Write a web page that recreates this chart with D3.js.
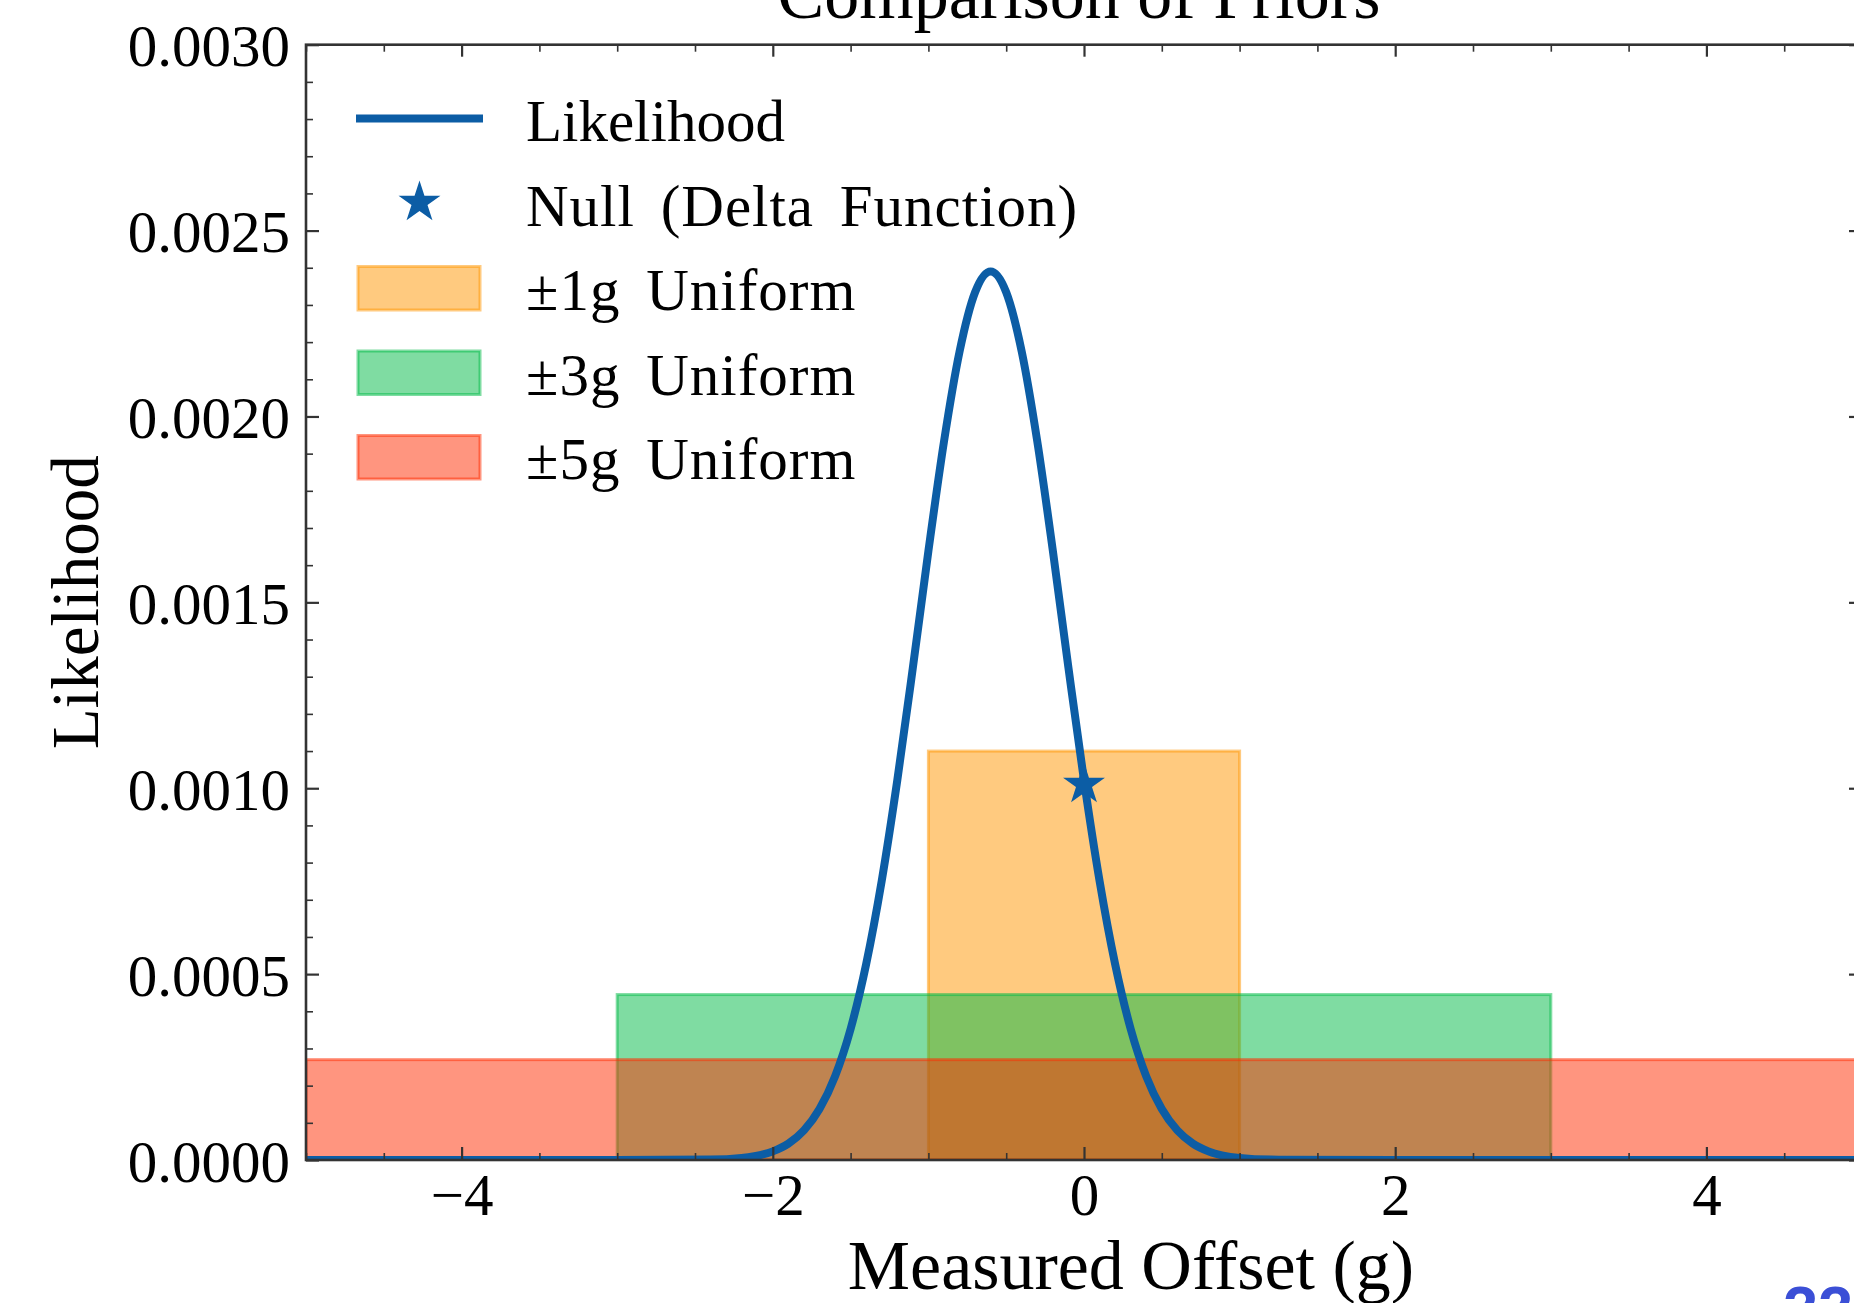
<!DOCTYPE html>
<html>
<head>
<meta charset="utf-8">
<script src="https://cdn.jsdelivr.net/npm/d3@7"></script>
<style>
  body { margin: 0; background: #fff; }
  svg { display: block; }
  text { font-family: "Liberation Serif", "DejaVu Serif", serif; fill: #000; }
</style>
</head>
<body>
<div id="chart"></div>
<script>
// data
var curveX = [-5, -3, -2.4, -2.2, -2.0, -1.9, -1.8, -1.7, -1.6, -1.5, -1.4, -1.3, -1.2, -1.1, -1.0,
              -0.9, -0.8, -0.7, -0.6, -0.5, -0.4, -0.3, -0.2, -0.1, 0.0, 0.1, 0.2, 0.3, 0.4,
              0.5, 0.6, 0.7, 0.8, 1.0, 1.2, 2, 5];
var curveY = [0, 0, 0.0000011, 0.0000056, 0.0000233, 0.0000441, 0.0000795, 0.000137, 0.000225, 0.0003525,
              0.000527, 0.000751, 0.001021, 0.001324, 0.001638, 0.001932, 0.002174, 0.002334, 0.00239,
              0.002334, 0.002174, 0.001932, 0.001638, 0.001324, 0.001021, 0.000751, 0.000527, 0.0003525,
              0.000225, 0.000137, 0.0000795, 0.0000441, 0.0000233, 0.0000056, 0.0000011, 0, 0];

var nullX = [0];
var nullY = [0.00101];

var priorLabels = ["\u00b11g Uniform", "\u00b13g Uniform", "\u00b15g Uniform"];
var priorHalfWidth = [1, 3, 5];
var priorHeight = [0.0011, 0.000445, 0.00027];

var xMajor = [-4, -2, 0, 2, 4];
var yMajor = [0, 0.0005, 0.001, 0.0015, 0.002, 0.0025, 0.003];

var legendLabels = ["Likelihood", "Null (Delta Function)"].concat(priorLabels);

// styles
var blue = "#0C5DA5";
var priorColors = ["#FF9500", "#00B945", "#FF2C00"];

var width = 1854, height = 1303;
var plotLeft = 306, plotRight = 1862, plotTop = 44.7, plotBottom = 1160;

var svg = d3.select("#chart").append("svg")
    .attr("width", width)
    .attr("height", height);

var x = d3.scaleLinear().domain([-5, 5]).range([plotLeft, plotRight]);
var y = d3.scaleLinear().domain([0, 0.003]).range([plotBottom, plotTop]);

svg.append("clipPath").attr("id", "plotclip")
  .append("rect")
    .attr("x", plotLeft).attr("y", plotTop)
    .attr("width", plotRight - plotLeft).attr("height", plotBottom - plotTop);

var plot = svg.append("g").attr("clip-path", "url(#plotclip)");

// uniform priors
plot.selectAll("rect.prior")
  .data(priorHalfWidth)
  .enter().append("rect")
    .attr("class", "prior")
    .attr("x", function(d) { return x(-d); })
    .attr("width", function(d) { return x(d) - x(-d); })
    .attr("y", function(d, i) { return y(priorHeight[i]); })
    .attr("height", function(d, i) { return y(0) - y(priorHeight[i]); })
    .attr("fill", function(d, i) { return priorColors[i]; })
    .attr("fill-opacity", 0.5)
    .attr("stroke", function(d, i) { return priorColors[i]; })
    .attr("stroke-opacity", 0.5)
    .attr("stroke-width", 3);

// likelihood curve
var line = d3.line()
    .x(function(d, i) { return x(curveX[i]); })
    .y(function(d) { return y(d); })
    .curve(d3.curveMonotoneX);

plot.append("path")
    .datum(curveY)
    .attr("d", line)
    .attr("fill", "none")
    .attr("stroke", blue)
    .attr("stroke-width", 8)
    .attr("stroke-linejoin", "round");

// null point
var star = d3.symbol().type(d3.symbolStar).size(545);
plot.selectAll("path.null")
  .data(nullX)
  .enter().append("path")
    .attr("class", "null")
    .attr("d", star)
    .attr("transform", function(d, i) { return "translate(" + x(d) + "," + y(nullY[i]) + ")"; })
    .attr("fill", blue);

// axes: ticks inward on all four sides
var tickColor = "#333";
function styleAxis(g, w) {
  g.select(".domain").remove();
  g.selectAll(".tick line").attr("stroke", tickColor).attr("stroke-width", w);
}

var xMinor = d3.range(-5, 5.001, 0.5).filter(function(v) { return xMajor.indexOf(v) < 0; });
var yMinor = d3.range(0, 31).map(function(i) { return i / 10000; })
    .filter(function(v, i) { return i % 5 !== 0; });

var gx = svg.append("g").attr("transform", "translate(0," + plotBottom + ")")
    .call(d3.axisBottom(x).tickValues(xMajor).tickSize(-13).tickSizeOuter(0).tickFormat(d3.format("d")));
styleAxis(gx, 2.2);
gx.selectAll(".tick text")
    .attr("y", 55).attr("dy", 0)
    .style("font-size", "59px")
    .style("font-family", "Liberation Serif");

svg.append("g").attr("transform", "translate(0," + plotBottom + ")")
    .call(d3.axisBottom(x).tickValues(xMinor).tickSize(-7).tickFormat(""))
    .call(styleAxis, 1.6);

svg.append("g").attr("transform", "translate(0," + plotTop + ")")
    .call(d3.axisTop(x).tickValues(xMajor).tickSize(-12).tickFormat(""))
    .call(styleAxis, 2.2);
svg.append("g").attr("transform", "translate(0," + plotTop + ")")
    .call(d3.axisTop(x).tickValues(xMinor).tickSize(-7).tickFormat(""))
    .call(styleAxis, 1.6);

var gy = svg.append("g").attr("transform", "translate(" + plotLeft + ",0)")
    .call(d3.axisLeft(y).tickValues(yMajor).tickSize(-13).tickSizeOuter(0).tickFormat(d3.format(".4f")));
styleAxis(gy, 2.2);
gy.selectAll(".tick text")
    .attr("x", -16).attr("dy", 21)
    .style("font-size", "59px")
    .style("font-family", "Liberation Serif");

svg.append("g").attr("transform", "translate(" + plotLeft + ",0)")
    .call(d3.axisLeft(y).tickValues(yMinor).tickSize(-7).tickFormat(""))
    .call(styleAxis, 1.6);

svg.append("g").attr("transform", "translate(" + plotRight + ",0)")
    .call(d3.axisRight(y).tickValues(yMajor).tickSize(-13).tickFormat(""))
    .call(styleAxis, 2.2);

// spines
svg.append("rect")
    .attr("x", plotLeft).attr("y", plotTop)
    .attr("width", plotRight - plotLeft).attr("height", plotBottom - plotTop)
    .attr("fill", "none")
    .attr("stroke", tickColor)
    .attr("stroke-width", 2.6);

// title and axis labels
svg.append("text")
    .attr("x", x(0) - 5).attr("y", 18)
    .attr("text-anchor", "middle")
    .style("font-size", "70px")
    .text("Comparison of Priors");

svg.append("text")
    .attr("x", x(0) + 47).attr("y", 1289)
    .attr("text-anchor", "middle")
    .style("font-size", "70px")
    .text("Measured Offset (g)");

svg.append("text")
    .attr("transform", "translate(98," + (plotTop + plotBottom) / 2 + ") rotate(-90)")
    .attr("text-anchor", "middle")
    .style("font-size", "67px")
    .text("Likelihood");

// legend
var legend = svg.append("g");
var rowY = function(i) { return 141 + i * 84.5; };

legend.append("line")
    .attr("x1", 356).attr("x2", 483)
    .attr("y1", rowY(0) - 22.5).attr("y2", rowY(0) - 22.5)
    .attr("stroke", blue).attr("stroke-width", 8);

legend.append("path")
    .attr("d", star)
    .attr("transform", "translate(419.5," + (rowY(1) - 23) + ")")
    .attr("fill", blue);

legend.selectAll("rect")
  .data(priorLabels)
  .enter().append("rect")
    .attr("x", 358).attr("width", 122)
    .attr("y", function(d, i) { return rowY(i + 2) - 43.5; })
    .attr("height", 43.5)
    .attr("fill", function(d, i) { return priorColors[i]; })
    .attr("fill-opacity", 0.5)
    .attr("stroke", function(d, i) { return priorColors[i]; })
    .attr("stroke-opacity", 0.5)
    .attr("stroke-width", 3);

legend.selectAll("text")
  .data(legendLabels)
  .enter().append("text")
    .attr("x", 526)
    .attr("y", function(d, i) { return rowY(i); })
    .style("font-size", "59px")
    .style("word-spacing", "10px")
    .style("letter-spacing", function(d, i) { return i > 0 ? "1px" : "0px"; })
    .text(function(d) { return d; });

// slide number, cut by the page edge
svg.append("text")
    .attr("x", 1783).attr("y", 1330)
    .style("font-family", "Liberation Sans")
    .style("font-weight", "bold")
    .style("font-size", "63px")
    .style("fill", "#3B4FD6")
    .text("22");
</script>
</body>
</html>
